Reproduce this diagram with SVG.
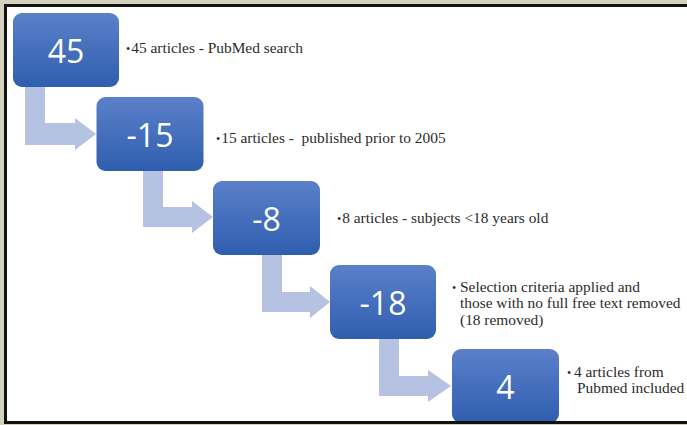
<svg xmlns="http://www.w3.org/2000/svg" width="687" height="425" viewBox="0 0 687 425">
  <defs>
    <linearGradient id="boxFill" x1="0" y1="0" x2="0" y2="1">
      <stop offset="0" stop-color="#5b80c9"/>
      <stop offset="1" stop-color="#2f5eaf"/>
    </linearGradient>
    <clipPath id="frameClip">
      <rect x="7" y="7" width="680" height="414"/>
    </clipPath>
  </defs>
  <style>
    .box { fill: url(#boxFill); }
    .num { font-family: "Open Sans", "Liberation Sans", sans-serif; font-size: 32px; fill: #ffffff; text-anchor: middle; }
    .note { font-family: "Liberation Serif", "Times New Roman", serif; font-size: 15.4px; fill: #2b2b2b; white-space: pre; }
    .dot { font-size: 12px; }
    .bend { fill: #b6c2e1; }
  </style>

  <!-- page frame -->
  <rect x="0" y="0" width="687" height="425" fill="#d5d1bf"/>
  <rect x="4" y="4" width="690" height="420" fill="#111111"/>
  <rect x="7" y="7" width="680" height="414" fill="#ffffff"/>

  <g clip-path="url(#frameClip)">
    <!-- bent connectors between steps -->
    <g id="connectors">
      <path class="bend" d="M25,87 H45 V123 H75 V118 L96,134 L75,150 V145 H25 Z"/>
      <path class="bend" d="M143,171 H163 V207 H192 V201 L213,217 L192,233 V227 H143 Z"/>
      <path class="bend" d="M262,255 H282 V292 H310 V286 L330,302 L310,318 V312 H262 Z"/>
      <path class="bend" d="M379,339 H399 V376 H428 V370 L451,386 L428,402 V396 H379 Z"/>
    </g>

    <g id="step-45">
      <rect class="box" x="13" y="13" width="106" height="74" rx="9"/>
      <text class="num" x="66" y="63">45</text>
      <text class="note" x="126" y="53"><tspan class="dot">•</tspan><tspan dx="1">45 articles - PubMed search</tspan></text>
    </g>

    <g id="step-15">
      <rect class="box" x="96.5" y="97" width="107" height="74" rx="9"/>
      <text class="num" x="150" y="147">-15</text>
      <text class="note" x="216" y="143"><tspan class="dot">•</tspan><tspan dx="1">15 articles -  published prior to 2005</tspan></text>
    </g>

    <g id="step-8">
      <rect class="box" x="213" y="181" width="107" height="74" rx="9"/>
      <text class="num" x="266.5" y="231">-8</text>
      <text class="note" x="337" y="223"><tspan class="dot">•</tspan><tspan dx="1">8 articles - subjects &lt;18 years old</tspan></text>
    </g>

    <g id="step-18">
      <rect class="box" x="330" y="265" width="106" height="74" rx="9"/>
      <text class="num" x="383" y="315">-18</text>
      <text class="note" x="452" y="292"><tspan class="dot">•</tspan><tspan x="460">Selection criteria applied and</tspan></text>
      <text class="note" x="460" y="308">those with no full free text removed</text>
      <text class="note" x="460" y="325">(18 removed)</text>
    </g>

    <g id="step-4">
      <rect class="box" x="452" y="349" width="107" height="74" rx="9"/>
      <text class="num" x="505.5" y="399">4</text>
      <text class="note" x="567" y="377"><tspan class="dot">•</tspan><tspan x="574">4 articles from</tspan></text>
      <text class="note" x="577" y="393">Pubmed included</text>
    </g>
  </g>
</svg>
